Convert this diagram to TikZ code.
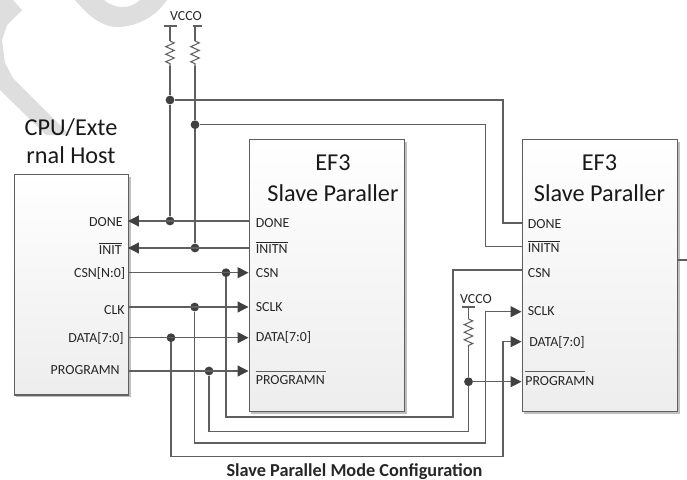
\documentclass[tikz,border=0pt]{standalone}
\usepackage{fontspec}
\setmainfont{Carlito}
\usetikzlibrary{arrows.meta, decorations.pathmorphing, shadows}
\definecolor{wirecol}{RGB}{95,95,95}
\definecolor{markcol}{RGB}{222,222,222}
\definecolor{dotcol}{RGB}{64,64,64}
\tikzset{
  chip/.style    = {rectangle, draw=wirecol, line width=0.7pt, anchor=north west, inner sep=0pt,
                    top color=white, bottom color=black!7,
                    general shadow={shadow xshift=1.2pt, shadow yshift=-1.2pt, fill=black!25}},
  title/.style   = {font=\fontsize{13.8}{17.6}\selectfont, align=center, text=black!90},
  pin/.style     = {font=\fontsize{7.9}{9.6}\selectfont, inner sep=0pt, text=black!85},
  wire/.style    = {line width=0.7pt, color=wirecol},
  arrow/.style   = {wire, -{Triangle[length=6.2pt, width=6.2pt, color=dotcol]}},
  dot/.style     = {circle, fill=dotcol, inner sep=0pt, minimum size=5pt},
  rail/.style    = {wire, line width=0.6pt},
  res/.style     = {wire, line width=0.6pt, decorate,
                    decoration={zigzag, segment length=4.3pt, amplitude=2.4pt}},
}
\begin{document}
\begin{tikzpicture}[x=0.02cm, y=-0.02cm]
  \useasboundingbox (0,0) rectangle (687,480);

  % watermark
  \fill[markcol] (0,0) -- (13,0) -- (22,10) -- (7,25) -- (2,40) -- (5,63) -- (13,78)
    -- (70,135) -- (46,135) -- (0,90) -- cycle;
  \fill[markcol] (75,0) -- (104,0) .. controls (110,5) and (116,7) .. (123,7)
    .. controls (130,7) and (136,4) .. (140,0) -- (167,0)
    .. controls (155,18) and (135,27) .. (117,27) .. controls (100,27) and (85,12) .. (75,0) -- cycle;

  % blocks
  \node[chip, minimum width=2.29cm, minimum height=4.41cm] (host) at (13.5,174) {};
  \node[chip, minimum width=3.11cm, minimum height=5.44cm] (efa) at (248.5,139) {};
  \node[chip, minimum width=3.11cm, minimum height=5.44cm] (efb) at (521.5,139) {};

  \node[title] (hosttitle) at (71,141) {CPU/Exte\\[-1.7pt]rnal Host};
  \node[title] (efatitle) at (333,178) {EF3\\Slave Paraller};
  \node[title] (efbtitle) at (599.5,178) {EF3\\Slave Paraller};
  \node[font=\fontsize{10.4}{12}\selectfont\bfseries, text=black!85] (caption) at (354.5,471.5)
    {Slave Parallel Mode Configuration};

  % pins on the host
  \node[pin, anchor=east] (hdone) at (123,222) {DONE};
  \node[pin, anchor=east] (hinit) at (122,248.5) {$\overline{\mbox{INIT}}$};
  \node[pin, anchor=east] (hcsn) at (125.5,273) {CSN[N:0]};
  \node[pin, anchor=east] (hclk) at (125,310) {CLK};
  \node[pin, anchor=east] (hdata) at (124,338) {DATA[7:0]};
  \node[pin, anchor=east] (hprog) at (120,370) {PROGRAMN};

  % pins on the first slave
  \node[pin, anchor=west] (adone) at (255.5,223) {DONE};
  \node[pin, anchor=west] (ainit) at (255.5,247.5) {$\overline{\mbox{INITN}}$};
  \node[pin, anchor=west] (acsn) at (255.5,273) {CSN};
  \node[pin, anchor=west] (asclk) at (255.5,307) {SCLK};
  \node[pin, anchor=west] (adata) at (255.5,337) {DATA[7:0]};
  \node[pin, anchor=west] (aprog) at (255.5,380) {PROGRAMN};
  \draw[wire, line width=0.5pt] (255.5,371) -- (326,371);

  % pins on the second slave
  \node[pin, anchor=west] (bdone) at (527.5,224) {DONE};
  \node[pin, anchor=west] (binit) at (527.5,246.5) {$\overline{\mbox{INITN}}$};
  \node[pin, anchor=west] (bcsn) at (527.5,273) {CSN};
  \node[pin, anchor=west] (bsclk) at (527.5,311.5) {SCLK};
  \node[pin, anchor=west] (bdata) at (529,342) {DATA[7:0]};
  \node[pin, anchor=west] (bprog) at (525,381) {PROGRAMN};
  \draw[wire, line width=0.5pt] (525,371) -- (585,371);

  % connection points on the block edges
  \coordinate (ldone) at (128,221);
  \coordinate (linit) at (128,248);
  \coordinate (lcsn) at (128,272.7);
  \coordinate (lclk) at (128,307);
  \coordinate (ldata) at (128,337.7);
  \coordinate (lprog) at (128,371);
  \coordinate (edone) at (248.5,221);
  \coordinate (einit) at (248.5,248);
  \coordinate (ecsn) at (248.5,272.7);
  \coordinate (eclk) at (248.5,307);
  \coordinate (edata) at (248.5,337.7);
  \coordinate (eprog) at (248.5,371);
  \coordinate (fdone) at (521.5,223);
  \coordinate (finit) at (521.5,246.7);
  \coordinate (fcsn) at (521.5,270);
  \coordinate (fclk) at (521.5,311.7);
  \coordinate (fdata) at (521.5,341.7);
  \coordinate (fprog) at (521.5,381.7);
  \coordinate (fout) at (677,260);
  \coordinate (outend) at (687,260);

  % pull-ups
  \node[pin] (vcctop) at (186,16) {VCCO};
  \node[pin] (vccb) at (476,299) {VCCO};
  \coordinate (vdone) at (170,26);
  \coordinate (vinit) at (195,26);
  \coordinate (vprog) at (468.5,307);
  \draw[rail] (164,26) -- (176.5,26);
  \draw[rail] (193,26) -- (201.5,26);
  \draw[rail] (462,307) -- (475,307);
  \draw[res] (170,41) -- (170,66);
  \draw[res] (195,41) -- (195,66);
  \draw[res] (468.5,319) -- (468.5,347);

  % junctions
  \node[dot] (jdone) at (170,221) {};
  \node[dot] (jdoneup) at (170,100) {};
  \node[dot] (jinit) at (195,248) {};
  \node[dot] (jinitup) at (195,124.7) {};
  \node[dot] (jcsn) at (226,272.7) {};
  \node[dot] (jclk) at (194.7,307) {};
  \node[dot] (jdata) at (171,337.7) {};
  \node[dot] (jprog) at (209,371) {};
  \node[dot] (jprogb) at (468.5,381.7) {};

  % host side
  \draw[arrow] (edone) -- (ldone);
  \draw[arrow] (einit) -- (linit);
  \draw[arrow] (lcsn) -- (ecsn);
  \draw[arrow] (lclk) -- (eclk);
  \draw[arrow] (ldata) -- (edata);
  \draw[arrow] (lprog) -- (eprog);

  % rails
  \draw[wire] (vdone) -- (170,41) (170,66) -- (jdoneup) -- (jdone);
  \draw[wire] (vinit) -- (195,41) (195,66) -- (jinitup) -- (jinit);
  \draw[wire] (vprog) -- (468.5,319) (468.5,347) -- (jprogb);

  % to the second slave
  \draw[wire] (jdoneup) -- (503,100) -- (503,223) -- (fdone);
  \draw[wire] (jinitup) -- (485.7,124.7) -- (485.7,246.7) -- (finit);
  \draw[wire] (jcsn) -- (226,417) -- (453,417) -- (453,270) -- (fcsn);
  \draw[wire] (jprog) -- (209,431.7) -- (468.5,431.7) -- (jprogb);
  \draw[arrow] (jclk) -- (194.7,443) -- (485.7,443) -- (485.7,311.7) -- (fclk);
  \draw[arrow] (jdata) -- (171,456.7) -- (503,456.7) -- (503,341.7) -- (fdata);
  \draw[arrow] (jprogb) -- (fprog);
  \draw[wire] (fout) -- (outend);
\end{tikzpicture}
\end{document}
